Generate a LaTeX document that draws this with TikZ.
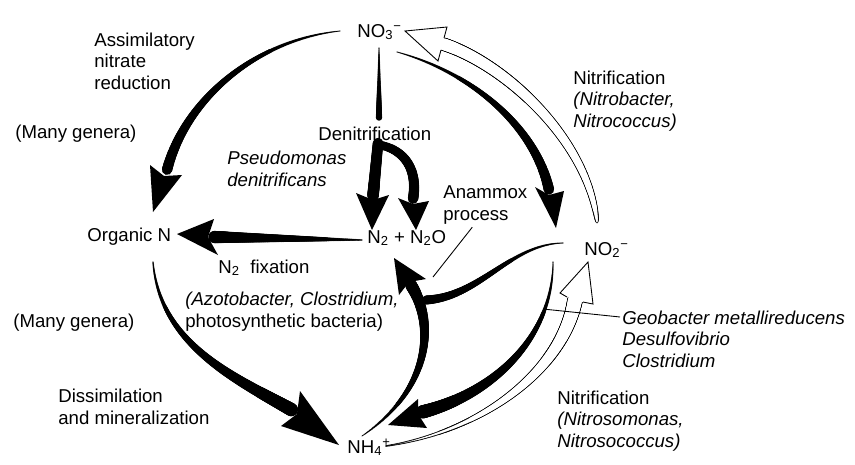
\documentclass[tikz,border=0pt]{standalone}
\usepackage{fontspec}
\setmainfont{Liberation Sans}
\usetikzlibrary{calc}
\usetikzlibrary{decorations.markings}

\newcommand\bhead[4]{\fill #1 -- #2 -- #3 -- #4 -- cycle;}
\newcommand\hhead[5]{\fill[white] #1 -- #2 -- #3 -- #4 -- #5 -- cycle;
  \draw[line width=0.5pt] #1 -- #2 -- #3 -- #4 -- #5;}

\tikzset{
  lbl/.style={inner sep=0pt, anchor=base west, align=left,
    font=\fontsize{10.6}{12}\selectfont},
  itl/.style={font=\fontsize{10.6}{12}\selectfont\itshape},
  taper/.style n args={4}{postaction={decorate, decoration={markings,
    mark=between positions 0 and 1 step 0.4pt with {%
      \pgfmathsetmacro\rr{(#1)+((#2)-(#1))*pow(\pgfkeysvalueof{/pgf/decoration/mark info/distance from start}/\pgfdecoratedpathlength+0.001,#3)}%
      \fill[#4] (0,0) circle (\rr pt);}}}},
  shaft/.style 2 args={taper={#1}{#2}{1}{black}},
  hollow/.style n args={3}{taper={#1+0.5}{#2+0.5}{#3}{black}, taper={#1}{#2}{#3}{white}},
}

\begin{document}
\begin{tikzpicture}[x=0.02cm, y=-0.02cm]
\useasboundingbox (0,0) rectangle (855,464);

\node[lbl] (no3) at (357,37) {NO\textsubscript{3}\textsuperscript{−}};
\node[lbl] (asr) at (94,89) {Assimilatory\\nitrate\\reduction};
\node[lbl] (mg1) at (15,138) {(Many genera)};
\node[lbl] (den) at (318,140) {Denitrification};
\node[lbl, itl] (pse) at (227,186) {Pseudomonas\\denitrificans};
\node[lbl] (ana) at (443,220) {Anammox\\process};
\node[lbl] (org) at (87,241) {Organic N};
\node[lbl] (n2) at (367,243) {N\textsubscript{2} + N\textsubscript{2}O};
\node[lbl] (no2) at (584,255) {NO\textsubscript{2}\textsuperscript{−}};
\node[lbl] (nfx) at (218,273) {N\textsubscript{2}\hspace{3pt} fixation};
\node[lbl] (azo) at (185,327) {\textit{(Azotobacter, Clostridium,}\\photosynthetic bacteria)};
\node[lbl] (mg2) at (13,327) {(Many genera)};
\node[lbl] (dis) at (58,424) {Dissimilation\\and mineralization};
\node[lbl] (nh4) at (347,453) {NH\textsubscript{4}\textsuperscript{+}};
\node[lbl] (nit1) at (573,127) {Nitrification\\\textit{(Nitrobacter,}\\\textit{Nitrococcus)}};
\node[lbl, itl] (geo) at (622,367) {Geobacter metallireducens\\Desulfovibrio\\Clostridium};
\node[lbl] (nit2) at (557,447) {Nitrification\\\textit{(Nitrosomonas,}\\\textit{Nitrosococcus)}};

\coordinate (h1s) at (597,222); \coordinate (h1e) at (443,44);
\coordinate (h2s) at (386,446); \coordinate (h2e) at (575,300);
\path[hollow={0}{3.3}{0.35}] (h1s) .. controls (588,140) and (505,64) .. (h1e);
\hhead{(441,50)}{(438,61)}{(405,31)}{(447,27)}{(444,38)}
\path[hollow={0}{4}{1.2}] (h2s) .. controls (480,432) and (562,372) .. (h2e);
\hhead{(567,297)}{(560,293)}{(588,262)}{(593,304)}{(583,302)}

\coordinate (a1s) at (340,31); \coordinate (a1e) at (167,170);
\path[shaft={0.3}{3}] (a1s) .. controls (255,40) and (185,100) .. (a1e);
\bhead{(153,212)}{(150,165)}{(164,176)}{(182,175)}
\coordinate (a2s) at (379,48); \coordinate (a2e) at (379,118);
\path[shaft={0.3}{1.8}] (a2s) -- (a2e);
\coordinate (a3s) at (378,143); \coordinate (a3e) at (373,196);
\path[shaft={3}{3.3}] (a3s) -- (a3e);
\bhead{(372,230)}{(356,193)}{(373,200)}{(389,195)}
\coordinate (a4s) at (380,145); \coordinate (a4e) at (413,199);
\path[shaft={2.4}{3}] (a4s) .. controls (405,150) and (418,170) .. (a4e);
\bhead{(416,230)}{(398,198)}{(413,204)}{(429,201)}
\coordinate (a5s) at (362,240); \coordinate (a5e) at (214,237);
\path[shaft={0.4}{3.5}] (a5s) -- (a5e);
\bhead{(177,234)}{(214,219)}{(208,237)}{(218,255)}
\coordinate (a6s) at (153,262); \coordinate (a6e) at (292,410);
\path[shaft={0.4}{3.8}] (a6s) .. controls (160,345) and (235,378) .. (a6e);
\bhead{(339,445)}{(300,391)}{(297,414)}{(281,426)}
\coordinate (a7s) at (362,436); \coordinate (a7e) at (411,285);
\path[shaft={0.3}{3.4}] (a7s) .. controls (430,390) and (436,325) .. (a7e);
\bhead{(394,258)}{(399,295)}{(409,282)}{(426,279)}
\coordinate (a8s) at (563,243); \coordinate (a8e) at (426,300);
\path[shaft={0.3}{2.6}] (a8s) .. controls (510,244) and (480,297) .. (a8e);
\coordinate (a9s) at (397,52); \coordinate (a9e) at (549,190);
\path[shaft={0.3}{3}] (a9s) .. controls (470,72) and (535,125) .. (a9e);
\bhead{(556,228)}{(535,187)}{(549,195)}{(564,191)}
\coordinate (a10s) at (553,262); \coordinate (a10e) at (422,412);
\path[shaft={0.3}{3.8}] (a10s) .. controls (553,340) and (490,395) .. (a10e);
\bhead{(388,425)}{(418,399)}{(418,414)}{(427,428)}

\coordinate (anaE) at (433,277);
\draw[line width=0.5pt] ($(ana.south)+(-13,3)$) -- (anaE);
\coordinate (geoE) at (543,309);
\draw[line width=0.5pt] ($(geo.north west)+(-2,6)$) -- (geoE);
\end{tikzpicture}
\end{document}
